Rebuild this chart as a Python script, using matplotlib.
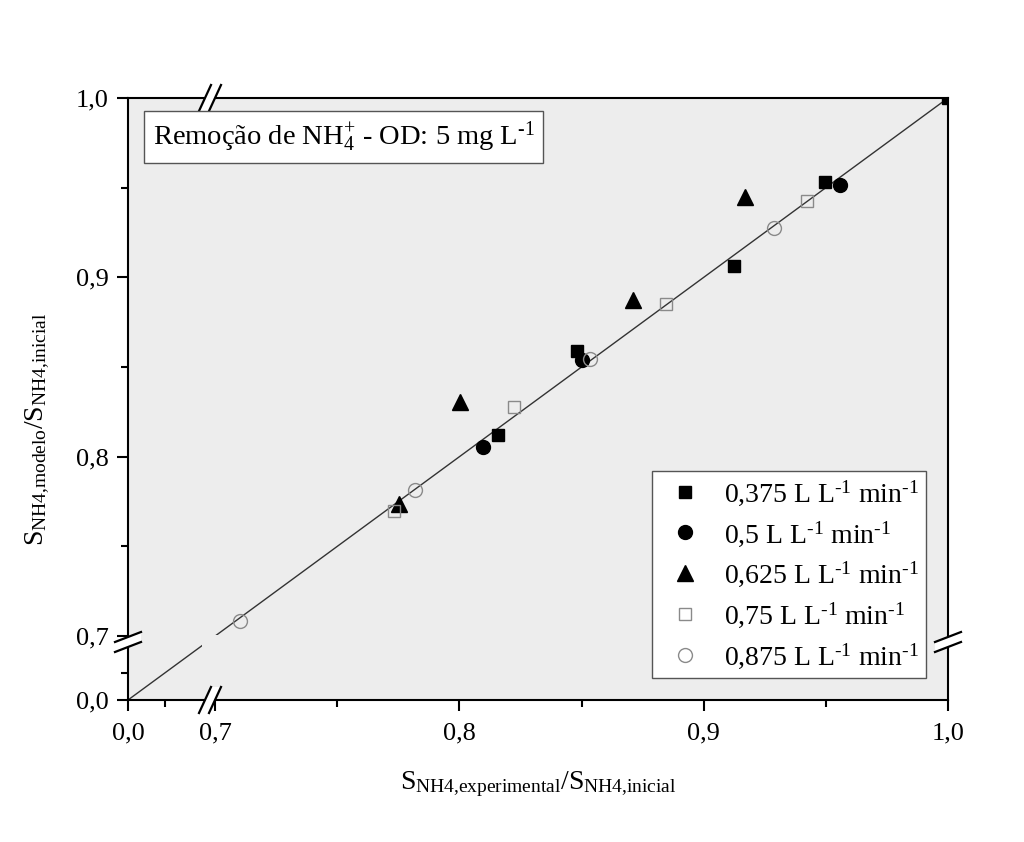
import numpy as np
import matplotlib
matplotlib.use("Agg")
import matplotlib.pyplot as plt
from matplotlib.patches import Polygon, Rectangle
from matplotlib.lines import Line2D

plt.rcParams['font.family'] = 'Liberation Serif'
plt.rcParams['mathtext.fontset'] = 'custom'
plt.rcParams['mathtext.rm'] = 'Liberation Serif'
plt.rcParams['mathtext.it'] = 'Liberation Serif:italic'
plt.rcParams['mathtext.bf'] = 'Liberation Serif:bold'

# data (experimental, modelo)
x_0375 = [0.9496, 0.9123, 0.8480, 0.8156, 1.0]
y_0375 = [0.9532, 0.9063, 0.8590, 0.8120, 1.0]
x_05 = [0.9557, 0.8500, 0.8098]
y_05 = [0.9515, 0.8539, 0.8054]
x_0625 = [0.9168, 0.8709, 0.8004, 0.7754]
y_0625 = [0.9448, 0.8873, 0.8304, 0.7736]
x_075 = [0.9422, 0.8844, 0.8225, 0.7730]
y_075 = [0.9426, 0.8851, 0.8277, 0.7697]
x_0875 = [0.9287, 0.8533, 0.7816, 0.7103]
y_0875 = [0.9275, 0.8545, 0.7814, 0.7083]

ref_x = [0.0, 1.0]
ref_y = [0.0, 1.0]

xticks = [0.0, 0.7, 0.8, 0.9, 1.0]
xtick_labels = ["0,0", "0,7", "0,8", "0,9", "1,0"]
yticks = [0.0, 0.7, 0.8, 0.9, 1.0]
ytick_labels = ["0,0", "0,7", "0,8", "0,9", "1,0"]
minor_ticks = [0.3, 0.75, 0.85, 0.95]

SUP = r"$^{\mathregular{‐1}}$"
labels = ["0,375 L L" + SUP + " min" + SUP,
          "0,5 L L" + SUP + " min" + SUP,
          "0,625 L L" + SUP + " min" + SUP,
          "0,75 L L" + SUP + " min" + SUP,
          "0,875 L L" + SUP + " min" + SUP]

BG = "#ededed"
BREAK = 0.7
U0 = 0.6643  # where 0.0 sits on the compressed scale


def fwd(v):
    v = np.asarray(v, dtype=float)
    return np.where(v >= BREAK, v, U0 + v * (BREAK - U0) / BREAK)


def inv(u):
    u = np.asarray(u, dtype=float)
    return np.where(u >= BREAK, u, (u - U0) * BREAK / (BREAK - U0))


fig = plt.figure(figsize=(10.24, 8.42), dpi=100)
ax = fig.add_axes([0.125, 0.16865, 0.80078, 0.71496])
ax.set_facecolor(BG)
ax.set_xscale("function", functions=(fwd, inv))
ax.set_yscale("function", functions=(fwd, inv))
ax.set_xlim(0, 1)
ax.set_ylim(0, 1)

ax.plot(ref_x, ref_y, color="#333333", lw=1.0, zorder=2)
# gap of the line at the break
ax.add_patch(Rectangle((0.090, 0.084), 0.022, 0.024, transform=ax.transAxes,
                       facecolor=BG, edgecolor="none", zorder=2.5))

ax.plot(x_0375, y_0375, ls="none", marker="s", ms=9, color="black", zorder=3)
ax.plot(x_05, y_05, ls="none", marker="o", ms=10, color="black", zorder=3)
ax.plot(x_0625, y_0625, ls="none", marker="^", ms=11, color="black", zorder=3)
ax.plot(x_075, y_075, ls="none", marker="s", ms=9, mfc="none", mec="#8a8a8a", mew=1.0, zorder=3)
ax.plot(x_0875, y_0875, ls="none", marker="o", ms=10, mfc="none", mec="#8a8a8a", mew=1.0, zorder=3)

ax.set_xticks(xticks)
ax.set_xticklabels(xtick_labels)
ax.set_yticks(yticks)
ax.set_yticklabels(ytick_labels)
ax.set_xticks(minor_ticks, minor=True)
ax.set_yticks(minor_ticks, minor=True)
ax.tick_params(which="major", direction="out", length=8, width=1.5, labelsize=19, pad=8)
ax.tick_params(axis="y", which="major", pad=6)
ax.tick_params(which="minor", direction="out", length=5, width=1.5)
for s in ax.spines.values():
    s.set_linewidth(1.5)

ax.set_xlabel(r"$\mathregular{S_{NH4{,}experimental}/S_{NH4{,}inicial}}$", fontsize=20)
ax.set_ylabel(r"$\mathregular{S_{NH4{,}modelo}/S_{NH4{,}inicial}}$", fontsize=20)
ax.xaxis.set_label_coords(0.5, -0.115)
ax.yaxis.set_label_coords(-0.093, 0.45)

# axis break marks
W, H = 820.0, 602.0


def brk(cx, cy, d, n):
    # d: half direction of a mark (px), n: half offset between the two lines (px)
    p1 = [(cx + (-d[0] - n[0]) / W, cy + (-d[1] - n[1]) / H),
          (cx + (d[0] - n[0]) / W, cy + (d[1] - n[1]) / H)]
    p2 = [(cx + (-d[0] + n[0]) / W, cy + (-d[1] + n[1]) / H),
          (cx + (d[0] + n[0]) / W, cy + (d[1] + n[1]) / H)]
    ax.add_patch(Polygon([p1[0], p1[1], p2[1], p2[0]], closed=True, transform=ax.transAxes,
                         facecolor="white", edgecolor="none", clip_on=False, zorder=5))
    for p in (p1, p2):
        ax.add_line(Line2D([p[0][0], p[1][0]], [p[0][1], p[1][1]], transform=ax.transAxes,
                           color="black", lw=1.6, clip_on=False, zorder=6))


bx = (210 - 128) / W
by = (700 - 642) / H
brk(bx, 0.0, (6, 13), (5, 0))
brk(bx, 1.0, (6, 13), (5, 0))
brk(0.0, by, (13, 5), (0, 5))
brk(1.0, by, (13, 5), (0, 5))

ax.text(0.030, 0.965, r"Remoção de NH$_{\mathregular{4}}^{\mathregular{+}}$ - OD: 5 mg L" + SUP,
        transform=ax.transAxes, fontsize=20.5, va="top", ha="left", zorder=7,
        bbox=dict(boxstyle="square,pad=0.3", facecolor="white", edgecolor="#555555", lw=1.0))

handles = [
    Line2D([], [], ls="none", marker="s", ms=9, color="black"),
    Line2D([], [], ls="none", marker="o", ms=10, color="black"),
    Line2D([], [], ls="none", marker="^", ms=11, color="black"),
    Line2D([], [], ls="none", marker="s", ms=9, mfc="none", mec="#8a8a8a", mew=1.0),
    Line2D([], [], ls="none", marker="o", ms=10, mfc="none", mec="#8a8a8a", mew=1.0),
]
leg = ax.legend(handles, labels, loc="lower right", bbox_to_anchor=(0.973, 0.0365),
                borderaxespad=0, fontsize=20, fancybox=False, framealpha=1,
                edgecolor="#555555", handlelength=1.9, handletextpad=0.45,
                labelspacing=0.4, borderpad=0.25)
leg.get_frame().set_linewidth(1.0)
leg.set_zorder(7)

fig.savefig("out.png", dpi=100)
